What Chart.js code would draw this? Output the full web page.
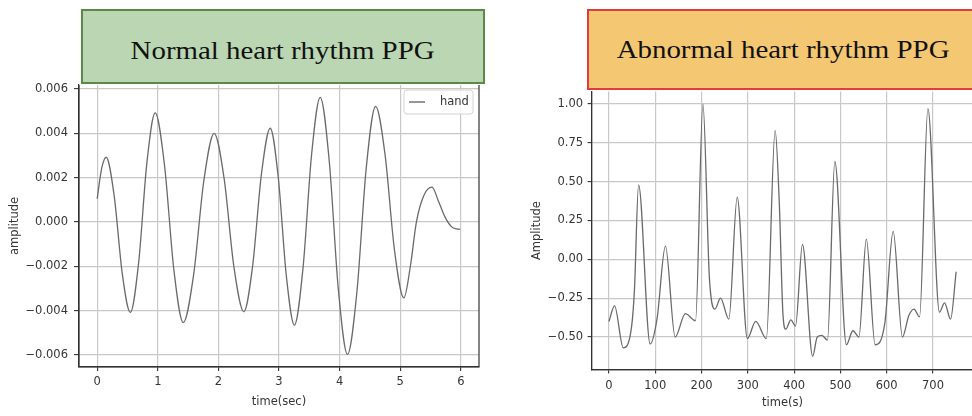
<!DOCTYPE html>
<html>
<head>
<meta charset="utf-8">
<script src="https://cdn.jsdelivr.net/npm/chart.js@4.4.1/dist/chart.umd.min.js"></script>
<style>
  html, body { margin:0; padding:0; background:#fff; }
  body { width:972px; height:416px; overflow:hidden; position:relative; }
  .cwrap { position:absolute; top:0; height:416px; }
  .tbox { position:absolute; box-sizing:border-box; }
  .ttxt { position:absolute; text-align:center; font-family:'Liberation Serif','Times New Roman',serif; font-size:25px; line-height:25px; color:#111; white-space:nowrap; }
  .ttxt span { display:inline-block; transform:scaleX(1.155); transform-origin:center; }
</style>
</head>
<body>
<div class="cwrap" style="left:0;width:490px"><canvas id="cv1" width="490" height="416"></canvas></div>
<div class="cwrap" style="left:490px;width:500px"><canvas id="cv2" width="500" height="416"></canvas></div>

<div class="tbox" style="left:81px;top:9px;width:404px;height:75px;background:#bad6b2;border:2px solid #5a8a45;"></div>
<div class="ttxt" style="left:81px;width:404px;top:38px;"><span>Normal heart rhythm PPG</span></div>

<div class="tbox" style="left:587px;top:9px;width:392px;height:81px;background:#f4c872;border:2px solid #e23b3b;"></div>
<div class="ttxt" style="left:587px;width:392px;top:37px;"><span>Abnormal heart rhythm PPG</span></div>

<script>
// ---------- data ----------
const normalTime = [0, 0.074, 0.148, 0.281, 0.414, 0.547, 0.684, 0.820, 0.957, 1.111, 1.266, 1.42, 1.59, 1.76, 1.93, 2.093, 2.257, 2.42, 2.565, 2.71, 2.855, 2.988, 3.121, 3.254, 3.396, 3.538, 3.68, 3.83, 3.98, 4.13, 4.285, 4.439, 4.594, 4.749, 4.905, 5.06, 5.17, 5.267, 5.39, 5.524, 5.63, 5.74, 5.85, 5.93, 5.99];
const normalAmp  = [0.00105, 0.00242, 0.00292, 0.00117, -0.00233, -0.00408, -0.00183, 0.00267, 0.00492, 0.002555, -0.002175, -0.00454, -0.002405, 0.001865, 0.00400, 0.00199, -0.00204, -0.00405, -0.00198, 0.00216, 0.00423, 0.00201, -0.00243, -0.00465, -0.00208, 0.00305, 0.00562, 0.00272, -0.00307, -0.00597, -0.00317, 0.00242, 0.00522, 0.00306, -0.00126, -0.00342, -0.00195, 0, 0.00120, 0.00157, 0.00095, 0.00022, -0.00022, -0.00031, -0.00033];

const abnormalTime = [0, 12, 31, 49, 55, 64, 89, 104, 122, 143, 165, 187, 203, 217, 229, 241, 259, 277, 299, 317, 340, 359, 368, 376, 382, 393, 403, 418, 440, 450, 460, 472, 488, 513, 527, 540, 556, 575, 596, 614, 634, 648, 659, 671, 689, 714, 725, 738, 750];
const abnormalAmp  = [-0.40, -0.30, -0.57, -0.43, -0.20, 0.48, -0.545, -0.38, 0.085, -0.50, -0.35, -0.395, 1.00, -0.12, -0.32, -0.25, -0.385, 0.40, -0.51, -0.40, -0.51, 0.83, 0.36, -0.36, -0.45, -0.39, -0.43, 0.096, -0.624, -0.50, -0.49, -0.52, 0.63, -0.55, -0.46, -0.50, 0.13, -0.55, -0.41, 0.18, -0.50, -0.36, -0.32, -0.37, 0.97, -0.34, -0.28, -0.385, -0.08];

const normalXTicks  = [0, 1, 2, 3, 4, 5, 6];
const normalXLabels = ['0', '1', '2', '3', '4', '5', '6'];
const normalYTicks  = [-0.006, -0.004, -0.002, 0, 0.002, 0.004, 0.006];
const normalYLabels = ['\u22120.006', '\u22120.004', '\u22120.002', '0.000', '0.002', '0.004', '0.006'];

const abnormalXTicks  = [0, 100, 200, 300, 400, 500, 600, 700];
const abnormalXLabels = ['0', '100', '200', '300', '400', '500', '600', '700'];
const abnormalYTicks  = [-0.5, -0.25, 0, 0.25, 0.5, 0.75, 1.0];
const abnormalYLabels = ['\u22120.50', '\u22120.25', '0.00', '0.25', '0.50', '0.75', '1.00'];

const legendLabel = 'hand';

// ---------- styling ----------
Chart.defaults.font.family = "'DejaVu Sans', sans-serif";
Chart.defaults.font.size = 11.5;
Chart.defaults.color = '#353535';

const LINE = '#6a6a6a';
const GRID = '#c8c8c8';
const SPINE = '#333333';

function makeScale(ticksArr, labelsArr, o) {
  return {
    type: 'linear',
    min: o.min, max: o.max,
    afterBuildTicks: ax => { ax.ticks = ticksArr.map(v => ({ value: v })); },
    afterFit: ax => {
      if (o.width !== undefined) ax.width = o.width;
      if (o.height !== undefined) ax.height = o.height;
    },
    ticks: { callback: (v, i) => labelsArr[i], padding: o.pad, autoSkip: false, maxRotation: 0, color: '#353535' },
    grid: { color: GRID, lineWidth: 1.2, tickLength: o.tl, tickColor: SPINE, tickWidth: 1.1 },
    border: { display: true, color: SPINE, width: 1.2 },
    title: { display: true, text: o.title, padding: o.titlePad, color: '#353535' }
  };
}

// left, bottom and right spines (top one is hidden under the title box)
const spinePlugin = {
  id: 'spines',
  afterDraw(chart) {
    const { ctx, chartArea: a } = chart;
    ctx.save();
    ctx.strokeStyle = SPINE;
    ctx.lineWidth = 1.2;
    ctx.beginPath();
    ctx.moveTo(a.left, a.top);
    ctx.lineTo(a.left, a.bottom);
    ctx.lineTo(a.right, a.bottom);
    ctx.lineTo(a.right, a.top);
    ctx.stroke();
    ctx.restore();
  }
};

const insideLegend = {
  id: 'insideLegend',
  afterDraw(chart, args, opts) {
    if (!opts || !opts.show) return;
    const { ctx, chartArea: a } = chart;
    const ds = chart.data.datasets[0];
    const w = 69, h = 24;
    const x = a.right - 6 - w, y = a.top + 5;
    ctx.save();
    ctx.beginPath();
    if (ctx.roundRect) ctx.roundRect(x, y, w, h, 3); else ctx.rect(x, y, w, h);
    ctx.fillStyle = 'rgba(255,255,255,0.85)';
    ctx.fill();
    ctx.strokeStyle = '#d2d2d2';
    ctx.lineWidth = 1;
    ctx.stroke();
    ctx.beginPath();
    ctx.moveTo(x + 5, y + h / 2);
    ctx.lineTo(x + 21, y + h / 2);
    ctx.strokeStyle = ds.borderColor;
    ctx.lineWidth = 1.4;
    ctx.stroke();
    ctx.fillStyle = '#353535';
    ctx.font = "11.5px 'DejaVu Sans', sans-serif";
    ctx.textBaseline = 'middle';
    ctx.fillText(ds.label, x + 36, y + h / 2);
    ctx.restore();
  }
};

function pts(xs, ys) { return xs.map((x, i) => ({ x: x, y: ys[i] })); }

new Chart(document.getElementById('cv1'), {
  type: 'line',
  data: { datasets: [{
    label: legendLabel,
    data: pts(normalTime, normalAmp),
    borderColor: LINE, borderWidth: 1.3, pointRadius: 0,
    cubicInterpolationMode: 'monotone', fill: false
  }]},
  options: {
    responsive: false, animation: false,
    layout: { padding: { left: 4, top: 85, right: 11, bottom: 0 } },
    plugins: { legend: { display: false }, tooltip: { enabled: false }, insideLegend: { show: true } },
    scales: {
      x: makeScale(normalXTicks, normalXLabels, { min: -0.3, max: 6.3, height: 49, pad: 4, tl: 4, title: 'time(sec)', titlePad: { top: 2, bottom: 7 } }),
      y: makeScale(normalYTicks, normalYLabels, { min: -0.00654, max: 0.00618, width: 75, pad: 6, tl: 5, title: 'amplitude', titlePad: { top: 4, bottom: 2 } })
    }
  },
  plugins: [spinePlugin, insideLegend]
});

new Chart(document.getElementById('cv2'), {
  type: 'line',
  data: { datasets: [{
    label: 'abnormal',
    data: pts(abnormalTime, abnormalAmp),
    borderColor: LINE, borderWidth: 1.3, pointRadius: 0,
    cubicInterpolationMode: 'monotone', fill: false
  }]},
  options: {
    responsive: false, animation: false,
    layout: { padding: { left: 36.6, top: 91.6, right: 16.5, bottom: 0 } },
    plugins: { legend: { display: false }, tooltip: { enabled: false } },
    scales: {
      x: makeScale(abnormalXTicks, abnormalXLabels, { min: -37.5, max: 787.5, height: 46.4, pad: 5.5, tl: 4, title: 'time(s)', titlePad: { top: 2, bottom: 5.6 } }),
      y: makeScale(abnormalYTicks, abnormalYLabels, { min: -0.71, max: 1.08, width: 65, pad: 4.5, tl: 4, title: 'Amplitude', titlePad: { top: 4, bottom: 2 } })
    }
  },
  plugins: [spinePlugin]
});
</script>
</body>
</html>
